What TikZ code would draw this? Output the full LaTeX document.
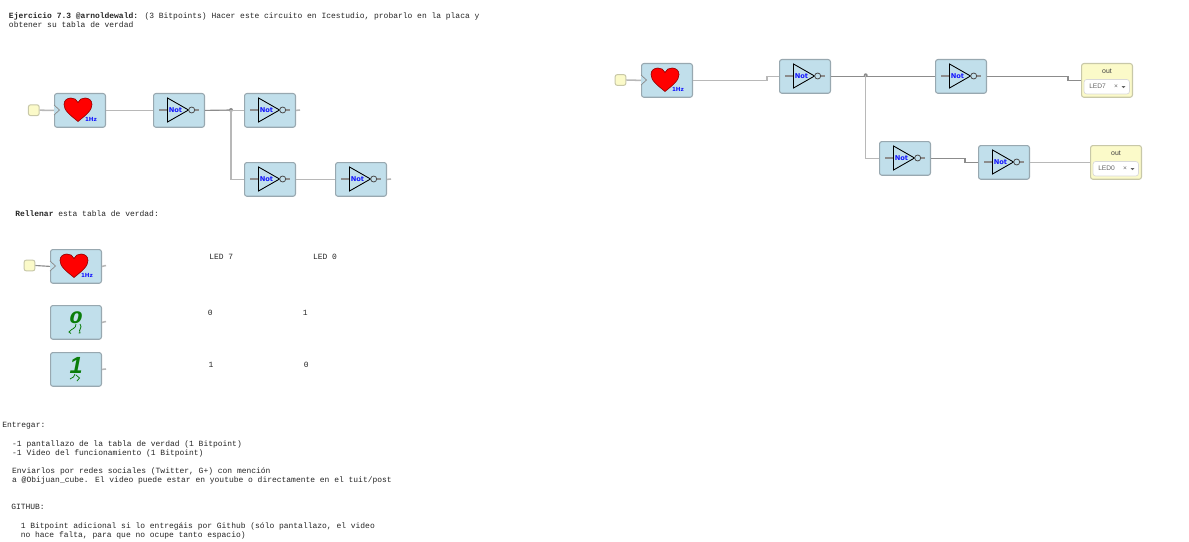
\documentclass[tikz,border=0pt]{standalone}
\usepackage{fontspec}
\newfontfamily\monof{Liberation Mono}
\newfontfamily\sansf{Liberation Sans}
\newfontfamily\dejab{DejaVu Sans}
\definecolor{blockfill}{HTML}{C1DFEB}
\definecolor{blockedge}{HTML}{98A8B0}
\definecolor{pinfill}{HTML}{FBFAC9}
\definecolor{pinedge}{HTML}{C8C8A8}
\definecolor{wirec}{HTML}{B8B8B8}
\definecolor{wired}{HTML}{8C8C8C}
\definecolor{notblue}{HTML}{1414FF}
\definecolor{leafgreen}{HTML}{0A7D0A}
\tikzset{
  x=.75pt,y=-.75pt,
  block/.style={draw=blockedge,fill=blockfill,line width=.8pt,rounded corners=1.8pt,anchor=north west,inner sep=0pt,minimum width=38.2pt,minimum height=25.3pt},
  outblock/.style={draw=pinedge,fill=pinfill,line width=.8pt,rounded corners=1.8pt,anchor=north west,inner sep=0pt,minimum width=38.2pt,minimum height=25.3pt},
  pin/.style={draw=pinedge,fill=pinfill,line width=.75pt,rounded corners=1.5pt,inner sep=0pt,minimum width=8pt,minimum height=8pt},
  wire/.style={draw=wirec,line width=1.15pt},
  wiredark/.style={draw=wired,line width=.85pt},
  stub/.style={draw=wired,line width=.9pt},
  junction/.style={circle,fill=wired,inner sep=0pt,minimum size=3pt},
  txt/.style={font=\monof\fontsize{5.98}{6.75}\selectfont,text=black!85,anchor=north west,inner sep=0pt,align=left},
  lbl/.style={font=\dejab\bfseries\fontsize{5}{5}\selectfont,text=notblue,inner sep=0pt},
  hzlbl/.style={font=\dejab\bfseries\fontsize{4.2}{5}\selectfont,text=notblue,inner sep=0pt},
  chev/.style={draw=wired,line width=.55pt,fill=blockfill},
}
% #1 name, #2 x, #3 y
\newcommand\NotBlk[3]{%
  \node[block] (#1) at (#2,#3) {};
  \begin{scope}[shift={(#2,#3)}]
    \draw[stub] (6,17) -- (15,17);
    \draw[stub] (41,17) -- (46,17);
    \draw[black,line width=.65pt,fill=blockfill,line join=miter] (14.5,5) -- (35.5,17) -- (14.5,29) -- cycle;
    \draw[black!70,line width=.6pt,fill=blockfill] (38.7,17) circle (3);
    \node[lbl] at (22.5,17.2) {Not};
  \end{scope}}
\newcommand\HeartBlk[3]{%
  \node[block] (#1) at (#2,#3) {};
  \begin{scope}[shift={(#2,#3)}]
    \draw[chev] (0,12) -- (5.5,17) -- (0,22);
    \draw[draw=black!45!red,line width=.45pt,fill=red]
      (24,28.5) .. controls (16,22) and (10,17.5) .. (10,11.5)
      .. controls (10,7.5) and (13,5) .. (17,5)
      .. controls (20,5) and (23,6.5) .. (24,9.5)
      .. controls (25,6.5) and (28,5) .. (31,5)
      .. controls (35,5) and (38,7.5) .. (38,11.5)
      .. controls (38,17.5) and (32,22) .. (24,28.5) -- cycle;
    \node[hzlbl] at (37,26) {1Hz};
  \end{scope}}
% #1 name, #2 x, #3 y, #4 LED text
\newcommand\OutBlk[4]{%
  \node[outblock] (#1) at (#2,#3) {};
  \begin{scope}[shift={(#2,#3)}]
    \node[font=\sansf\fontsize{5.2}{6}\selectfont,text=black!75,inner sep=0pt] at (26,8.5) {out};
    \draw[draw=black!15,fill=white,line width=.5pt,rounded corners=2pt] (3,16.5) rectangle (48.5,31);
    \node[font=\sansf\fontsize{5}{6}\selectfont,text=black!60,inner sep=0pt,anchor=west] at (8,23.7) {#4};
    \node[font=\sansf\fontsize{5}{6}\selectfont,text=black!60,inner sep=0pt] at (35,23.7) {×};
    \fill[black!60] (40.7,23.2) -- (44.3,23.2) -- (42.5,25.2) -- cycle;
  \end{scope}}
\begin{document}
\begin{tikzpicture}
\useasboundingbox (0,0) rectangle (1189,542);
\fill[white] (0,0) rectangle (1189,542);

% heading
\node[txt] (title) at (8.7,12) {\textbf{Ejercicio 7.3 @arnoldewald:} (3 Bitpoints) Hacer este circuito en Icestudio, probarlo en la placa y\\obtener su tabla de verdad};

% top-left circuit
\node[pin] (p1) at (33.8,110.2) {};
\HeartBlk{h1}{54}{93}
\NotBlk{n1}{153}{93}
\NotBlk{n2}{244}{93}
\NotBlk{n3}{244}{162}
\NotBlk{n4}{335}{162}
\node[junction] (j1) at (231,110) {};
\coordinate (e2) at (300,110);
\coordinate (e4) at (391,179);
\draw[wire] (p1.east) -- (h1.west);
\draw[wire] (h1.east) -- (n1.west);
\draw[wire] (n1.east) -- (n2.west);
\draw[wiredark] (n1.east) -- (j1.center);
\draw[wire] (j1.center) |- (n3.west);
\draw[wire] (n2.east) -- (e2);
\draw[wire] (n3.east) -- (n4.west);
\draw[wire] (n4.east) -- (e4);

% table
\node[txt] (rell) at (15,210) {\textbf{Rellenar} esta tabla de verdad:};
\node[pin] (p2) at (29.5,265.5) {};
\HeartBlk{h2}{50}{249}
\node[block] (zero) at (50,305) {};
\node[block] (one) at (50,352) {};
\begin{scope}[shift={(50,305)}]
  \node[font=\dejab\bfseries\itshape\fontsize{14}{15}\selectfont,text=leafgreen,inner sep=0pt,yscale=.85] (d0) at (26,12.5) {0};
  \draw[leafgreen,line width=.6pt] (26,19) .. controls (26,24) and (22,23) .. (19,27) -- (21,28.5);
  \draw[leafgreen,line width=.6pt] (30,19) .. controls (33,23) and (28,24) .. (30,28) -- (28.5,28);
\end{scope}
\begin{scope}[shift={(50,352)}]
  \node[font=\sansf\bfseries\itshape\fontsize{17.5}{19}\selectfont,text=leafgreen,inner sep=0pt] (d1) at (26,13.5) {1};
  \draw[leafgreen,line width=.6pt] (25,22) .. controls (25,25) and (23,25) .. (20,27);
  \draw[leafgreen,line width=.6pt] (26,23) -- (29.5,26) -- (27,29);
\end{scope}
\coordinate (e5) at (106,265.5);
\coordinate (e6) at (106,321.5);
\coordinate (e7) at (106,369);
\draw[wiredark] (p2.east) -- (h2.west);
\draw[wire] (h2.east) -- (e5);
\draw[wire] (zero.east) -- (e6);
\draw[wire] (one.east) -- (e7);

\node[txt] (l7) at (209,254) {LED 7};
\node[txt] (l0) at (312.8,254) {LED 0};
\node[txt] (a1) at (207.5,310) {0};
\node[txt] (a2) at (302.5,310) {1};
\node[txt] (b1) at (208.3,362) {1};
\node[txt] (b2) at (303.5,362) {0};

% instructions
\node[txt] (t1) at (2,422.3) {Entregar:};
\node[txt] (t2) at (11.9,440.3) {-1 pantallazo de la tabla de verdad (1 Bitpoint)\\-1 Video del funcionamiento (1 Bitpoint)};
\node[txt] (t3) at (11.9,467.3) {Enviarlos por redes sociales (Twitter, G+) con mención\\a @Obijuan\_cube. El video puede estar en youtube o directamente en el tuit/post};
\node[txt] (t4) at (11,504.3) {GITHUB:};
\node[txt] (t5) at (20.5,522.3) {1 Bitpoint adicional si lo entregáis por Github (sólo pantallazo, el video\\no hace falta, para que no ocupe tanto espacio)};

% right circuit
\node[pin] (p3) at (620.5,80) {};
\HeartBlk{h3}{641}{63}
\NotBlk{n5}{779}{59}
\NotBlk{n6}{935}{59}
\NotBlk{n7}{879}{141}
\NotBlk{n8}{978}{145}
\OutBlk{o1}{1081}{63}{LED7}
\OutBlk{o2}{1090}{145}{LED0}
\node[junction] (j2) at (865.7,75.3) {};
\draw[wire] (p3.east) -- (h3.west);
\draw[wire] (h3.east) -- ++(74,0) |- (n5.west);
\draw[wiredark] (n5.east) -- (n6.west);
\draw[wire] (j2.center) |- (n7.west);
\draw[wiredark] (n6.east) -- ++(81,0) |- (o1.west);
\draw[wiredark] (n7.east) -- ++(34,0) |- (n8.west);
\draw[wire] (n8.east) -- (o2.west);
\end{tikzpicture}
\end{document}
